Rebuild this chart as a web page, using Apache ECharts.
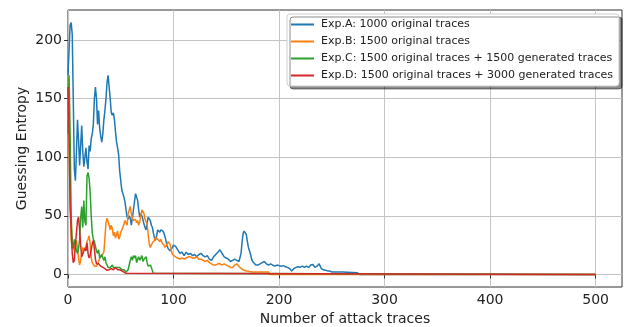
<!DOCTYPE html>
<html>
<head>
<meta charset="utf-8">
<script src="https://cdn.jsdelivr.net/npm/echarts@6/dist/echarts.min.js"></script>
<style>
  html, body { margin: 0; padding: 0; background: #fff; }
  #chart { width: 635px; height: 327px; }
</style>
</head>
<body>
<div id="chart"></div>
<script>
// Guessing entropy versus number of attack traces, four experiments.
const seriesNames = [
  'Exp.A: 1000 original traces',
  'Exp.B: 1500 original traces',
  'Exp.C: 1500 original traces + 1500 generated traces',
  'Exp.D: 1500 original traces + 3000 generated traces'
];

const tracesA = [0,2,3,4,5,6,7,8,9,10,11,12,13,14,15,16,17,18,19,20,21,22,23,24,25,26,27,28,29,30,
  31,32,33,34,35,36,37,38,39,40,41,42,43,44,45,46,47,48,49,50,51,52,53,54,55,56,57,58,59,60,
  61,62,63,64,65,66,67,68,69,70,71,72,73,74,75,76,77,78,79,80,81,82,83,84,85,86,87,88,89,90,
  91,92,93,94,95,96,97,98,99,100,102,104,106,108,110,112,114,116,118,120,122,124,126,128,130,
  132,134,136,138,140,142,144,146,148,150,152,154,156,158,160,162,164,165,166,167,168,169,170,
  171,172,173,174,175,176,178,180,182,184,186,188,190,192,194,196,198,200,202,204,206,208,210,
  212,214,216,218,220,222,224,226,228,230,232,234,236,238,240,242,244,246,248,250,260,274,276,500];
const entropyA = [170,213,215,205,150,90,80,105,132,115,93,110,127,105,92,100,108,96,90,110,105,116,120,128,150,160,150,128,140,125,
  118,113,120,132,140,150,164,170,160,150,138,136,138,132,122,113,108,102,88,80,72,69,66,62,55,49,47,50,48,42,
  48,55,62,69,70,63,55,49,52,50,47,43,40,38,44,49,50,46,42,40,35,31,29,33,38,37,36,38,39,37,
  35,32,28,24,22,21,20,21,23,25,24,21,18,19,16,19,17,18,16,17,15,17,18,16,15,
  16,13,12,15,17,19,21,18,15,14,13,11,12,13,12,11,18,28,35,37,37,34,28,
  23,20,17,13,11,10,8,8,9,10,11,9,8,9,8,7,8,7.5,7,7.5,6.5,6,5,
  3,5,6,6.5,6,7,6,7,6,8,8.5,6,7,9,5,4,3.5,3,3,2,2,1.5,0,0];

const tracesB = [0,1,2,3,4,5,6,7,8,9,10,11,12,13,14,15,16,17,18,19,20,21,22,23,24,25,26,27,28,29,30,
  31,32,33,34,35,36,37,38,39,40,41,42,43,44,45,46,47,48,49,50,51,52,53,54,55,56,57,58,59,60,
  61,62,63,64,65,66,67,68,69,70,71,72,73,74,75,76,77,78,79,80,81,82,83,84,85,86,87,88,89,90,
  91,92,93,94,95,96,97,98,99,100,102,104,106,108,110,112,114,116,118,120,122,124,126,128,130,
  132,134,136,138,140,142,144,146,148,150,152,154,156,158,160,162,164,166,168,170,172,175,180,
  185,190,191,500];
const entropyB = [168,120,60,30,22,26,20,24,29,22,14,8,12,18,23,21,20,24,28,30,33,26,14,10,9,7,6,7,8,11,14,
  15,16,17,19,20,44,48,45,42,38,42,39,33,36,31,34,37,30,32,36,38,40,43,46,44,42,52,55,58,52,
  48,46,45,47,44,46,42,45,50,55,56,52,47,45,43,34,26,23,25,27,26,29,32,31,30,29,28,30,27,26,
  25,23,24,26,28,27,25,20,17,16,15,14,13,14,13,14,15,15,14,14,15,13,13,12,11,
  12,10,9,8,8,9,9,8,9,8,7,6,6,8,9,7,5,4,3,3,2.5,2,2,
  2,2,0,0];

const tracesC = [0,1,2,3,4,5,6,7,8,9,10,11,12,13,14,15,16,17,18,19,20,21,22,23,24,25,26,27,28,29,30,
  31,32,33,34,35,36,37,38,39,40,41,42,43,44,45,46,47,48,49,50,51,52,53,54,55,56,57,58,59,60,
  61,62,63,64,65,66,67,68,69,70,71,72,73,74,75,76,77,78,79,80,81,82,500];
const entropyC = [120,170,120,50,28,22,30,25,20,18,22,30,48,58,40,63,45,42,84,87,82,70,50,35,30,28,29,20,18,21,14,
  13,17,14,12,15,10,8,6,5,6,7,8,6,7,6,5,6,7,6,5,4,5,4,3,2,2,4,8,12,15,
  12,16,14,16,10,13,15,12,14,16,11,13,12,15,10,7,6,8,6,3,1,0,0];

const tracesD = [0,1,2,3,4,5,6,7,8,9,10,11,12,13,14,15,16,17,18,19,20,21,22,23,24,25,26,27,28,29,30,
  31,32,33,34,35,36,37,38,39,40,41,42,43,44,45,46,47,48,49,50,51,52,53,54,55,56,500];
const entropyD = [160,120,60,40,18,10,12,25,35,46,49,38,25,15,14,20,22,20,27,18,14,16,21,26,29,22,13,9,8,9,8,
  7,7,6,7,5,4,3.5,3,4,4,5,5,4,5,6,5,4,5,4,3,3,2.5,2,2,1,0,0];

const xTicks = [0, 100, 200, 300, 400, 500];
const yTicks = [0, 50, 100, 150, 200];

const colors = ['#1f77b4', '#ff7f0e', '#2ca02c', '#d62728'];
const xs = [tracesA, tracesB, tracesC, tracesD];
const ys = [entropyA, entropyB, entropyC, entropyD];

const font = 'DejaVu Sans';
const chart = echarts.init(document.getElementById('chart'), null, { renderer: 'canvas' });

chart.setOption({
  animation: false,
  color: colors,
  textStyle: { fontFamily: font },
  grid: {
    left: 68, right: 13, top: 10, bottom: 40,
    containLabel: false, outerBoundsMode: 'none',
    show: true, borderColor: '#333', borderWidth: 1, backgroundColor: '#fff'
  },
  legend: {
    orient: 'vertical',
    right: 16, top: 14,
    icon: 'rect',
    itemWidth: 23, itemHeight: 2,
    itemGap: 6,
    padding: [5, 6, 5, 4],
    backgroundColor: '#fff',
    borderColor: '#ccc', borderWidth: 1, borderRadius: 3,
    shadowColor: 'rgba(0,0,0,0.45)', shadowBlur: 0, shadowOffsetX: 3, shadowOffsetY: 3,
    textStyle: { fontFamily: font, fontSize: 11, color: '#222', padding: [0, 0, 0, 2] },
    data: seriesNames
  },
  xAxis: {
    type: 'value', min: 0, max: 525,
    name: 'Number of attack traces', nameLocation: 'middle', nameGap: 24,
    nameTextStyle: { fontFamily: font, fontSize: 14, color: '#222' },
    axisLine: { show: false },
    axisTick: { show: true, inside: false, length: 4, lineStyle: { color: '#333' }, customValues: xTicks },
    axisLabel: { fontFamily: font, fontSize: 14, color: '#222', margin: 6, customValues: xTicks },
    splitLine: { show: true, lineStyle: { color: '#c4c4c4', width: 1 } }
  },
  yAxis: {
    type: 'value', min: -10.75, max: 225.75,
    name: 'Guessing Entropy', nameLocation: 'middle', nameGap: 39,
    nameMoveOverlap: false,
    nameTextStyle: { fontFamily: font, fontSize: 14, color: '#222' },
    axisLine: { show: false },
    axisTick: { show: true, inside: false, length: 4, lineStyle: { color: '#333' }, customValues: yTicks },
    axisLabel: { fontFamily: font, fontSize: 14, color: '#222', margin: 6, customValues: yTicks },
    splitLine: { show: true, lineStyle: { color: '#c4c4c4', width: 1 } }
  },
  series: seriesNames.map((name, i) => ({
    name: name,
    type: 'line',
    showSymbol: false,
    symbol: 'none',
    lineStyle: { width: 1.5, color: colors[i] },
    itemStyle: { color: colors[i] },
    data: xs[i].map((x, k) => [x, ys[i][k]]),
    z: 2 + i
  }))
});
</script>
</body>
</html>
